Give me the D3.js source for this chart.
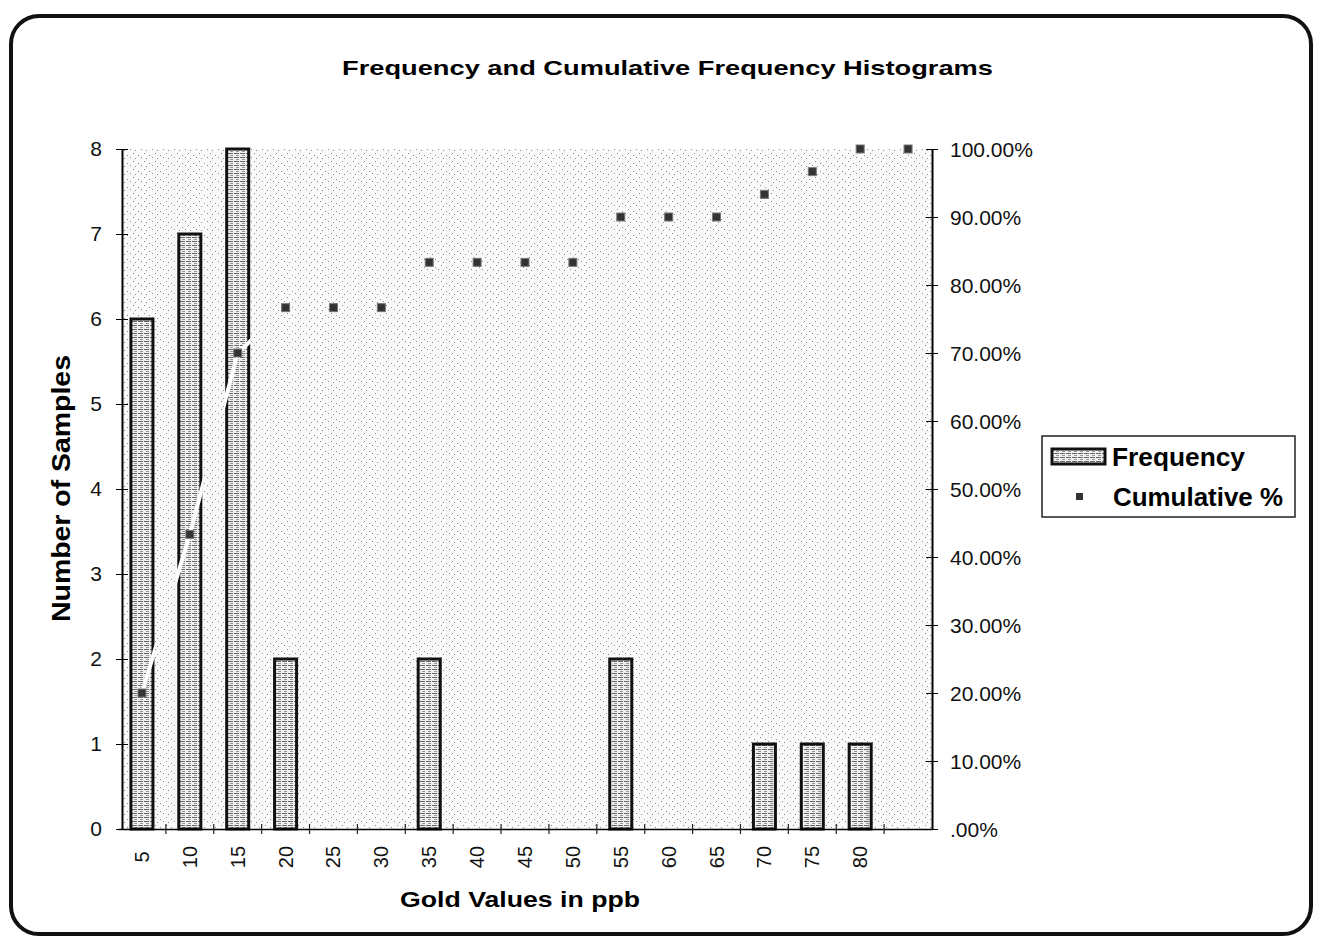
<!DOCTYPE html>
<html>
<head>
<meta charset="utf-8">
<script src="https://cdn.jsdelivr.net/npm/d3@7"></script>
<style>
  body { margin: 0; background: #fff; }
  svg { display: block; font-family: Arial, "Liberation Sans", sans-serif; }
</style>
</head>
<body>
<svg id="chart" width="1323" height="945"></svg>
<script>
// Chart data
const bins = ["5", "10", "15", "20", "25", "30", "35", "40", "45", "50", "55", "60", "65", "70", "75", "80", ""];
const frequency = [6, 7, 8, 2, 0, 0, 2, 0, 0, 0, 2, 0, 0, 1, 1, 1, 0];
const cumulative = [20.0, 43.33, 70.0, 76.67, 76.67, 76.67, 83.33, 83.33, 83.33, 83.33, 90.0, 90.0, 90.0, 93.33, 96.67, 100.0, 100.0];
const leftTicks = [0, 1, 2, 3, 4, 5, 6, 7, 8];
const rightTicks = [0, 10, 20, 30, 40, 50, 60, 70, 80, 90, 100];

const svg = d3.select("#chart");

// outer frame
svg.append("rect")
  .attr("x", 11).attr("y", 16)
  .attr("width", 1300).attr("height", 918)
  .attr("rx", 28)
  .style("fill", "#fff")
  .style("stroke", "#111")
  .style("stroke-width", 4);

// patterns for the scanned look
const defs = svg.append("defs");
const speckle = defs.append("pattern")
  .attr("id", "speckle").attr("patternUnits", "userSpaceOnUse")
  .attr("width", 11).attr("height", 8);
speckle.append("rect").attr("width", 11).attr("height", 8).style("fill", "#fafafa");
[[1, 1], [6, 3], [3, 6], [9, 5]].forEach(([x, y]) =>
  speckle.append("rect").attr("x", x).attr("y", y).attr("width", 1).attr("height", 1).style("fill", "#8a8a8a"));

const hatch = defs.append("pattern")
  .attr("id", "hatch").attr("patternUnits", "userSpaceOnUse")
  .attr("width", 6).attr("height", 4);
hatch.append("rect").attr("width", 6).attr("height", 4).style("fill", "#f0f0f0");
hatch.append("rect").attr("x", 0).attr("y", 1).attr("width", 5).attr("height", 1).style("fill", "#666");
hatch.append("rect").attr("x", 2).attr("y", 3).attr("width", 3).attr("height", 1).style("fill", "#999");

const margin = { left: 118, right: 932, top: 149, bottom: 829 };

const x = d3.scaleBand()
  .domain(d3.range(bins.length))
  .range([margin.left, margin.right])
  .paddingInner(0.54).paddingOuter(0.27);

const yL = d3.scaleLinear().domain([0, 8]).range([margin.bottom, margin.top]);
const yR = d3.scaleLinear().domain([0, 100]).range([margin.bottom, margin.top]);

// plot area background
svg.append("rect")
  .attr("x", margin.left + 3).attr("y", margin.top)
  .attr("width", margin.right - margin.left - 3)
  .attr("height", margin.bottom - margin.top)
  .style("fill", "url(#speckle)");

// title
svg.append("text")
  .attr("x", 342).attr("y", 75)
  .attr("textLength", 651).attr("lengthAdjust", "spacingAndGlyphs")
  .style("font-size", "21px").style("font-weight", "bold")
  .text("Frequency and Cumulative Frequency Histograms");

// bars
const bw = x.bandwidth();
const bars = svg.selectAll(".bar")
  .data(frequency)
  .join("rect")
  .attr("class", "bar")
  .attr("x", (d, i) => x(i))
  .attr("y", d => yL(d))
  .attr("width", bw)
  .attr("height", d => yL(0) - yL(d))
  .style("fill", "url(#hatch)")
  .style("stroke", "#111")
  .style("stroke-width", d => d > 0 ? 3 : 0);

// clip so the white cumulative line only shows across the bars
const clip = defs.append("clipPath").attr("id", "barclip");
clip.selectAll("rect")
  .data(frequency)
  .join("rect")
  .attr("x", (d, i) => x(i) - 2)
  .attr("y", d => yL(d))
  .attr("width", bw + 4)
  .attr("height", d => yL(0) - yL(d));

const cx = i => x(i) + bw / 2;
svg.append("path")
  .datum(cumulative)
  .attr("clip-path", "url(#barclip)")
  .attr("d", d3.line().x((d, i) => cx(i)).y(d => yR(d)))
  .style("fill", "none")
  .style("stroke", "#fff")
  .style("stroke-width", 4);

// cumulative markers
svg.selectAll(".pt")
  .data(cumulative)
  .join("rect")
  .attr("class", "pt")
  .attr("x", (d, i) => cx(i) - 4)
  .attr("y", d => yR(d) - 4)
  .attr("width", 8).attr("height", 8)
  .style("fill", "#333")
  .style("stroke", "#777").style("stroke-width", 1);

// left axis
const leftAxis = d3.axisLeft(yL).tickValues(leftTicks).tickSizeInner(6).tickSizeOuter(0).tickPadding(14);
const gL = svg.append("g").attr("transform", `translate(${margin.left + 4},0)`).call(leftAxis);
gL.selectAll(".tick line").attr("x2", 6).attr("x1", -6);
gL.selectAll("text").style("font-size", "21px").style("fill", "#111");
gL.select(".domain").style("stroke-width", 2);

// right axis
const rightAxis = d3.axisRight(yR).tickValues(rightTicks).tickSizeInner(6).tickSizeOuter(0).tickPadding(12)
  .tickFormat(d => d === 0 ? ".00%" : d.toFixed(2) + "%");
const gR = svg.append("g").attr("transform", `translate(${margin.right},0)`).call(rightAxis);
gR.selectAll(".tick line").attr("x1", -6).attr("x2", 6);
gR.selectAll("text").style("font-size", "21px").style("fill", "#111").attr("dy", "0.35em");
gR.select(".domain").style("stroke-width", 2);

// bottom axis
const bottomAxis = d3.axisBottom(x).tickFormat(i => bins[i]).tickSize(0).tickPadding(0);
const gB = svg.append("g").attr("transform", `translate(0,${margin.bottom})`).call(bottomAxis);
gB.select(".domain").style("stroke-width", 1.5);
gB.selectAll("text")
  .attr("transform", "rotate(-90)")
  .attr("x", -28).attr("y", 0).attr("dy", "0.35em")
  .attr("text-anchor", "middle")
  .style("font-size", "20px").style("fill", "#111");

// tick marks between categories
svg.selectAll(".xtick")
  .data(d3.range(1, bins.length))
  .join("line")
  .attr("class", "xtick")
  .attr("x1", i => x(i) - x.step() * x.paddingInner() / 2)
  .attr("x2", i => x(i) - x.step() * x.paddingInner() / 2)
  .attr("y1", margin.bottom - 5).attr("y2", margin.bottom + 5)
  .style("stroke", "#222").style("stroke-width", 1.2);

// axis titles
svg.append("text")
  .attr("x", 400).attr("y", 907)
  .attr("textLength", 240).attr("lengthAdjust", "spacingAndGlyphs")
  .style("font-size", "22px").style("font-weight", "bold")
  .text("Gold Values in ppb");

svg.append("text")
  .attr("transform", "translate(70,622) rotate(-90)")
  .attr("textLength", 267).attr("lengthAdjust", "spacingAndGlyphs")
  .style("font-size", "25px").style("font-weight", "bold")
  .text("Number of Samples");

// legend
const lg = svg.append("g").attr("transform", "translate(1042,436)");
lg.append("rect")
  .attr("width", 253).attr("height", 81)
  .style("fill", "#fff").style("stroke", "#222").style("stroke-width", 1.5);
lg.append("rect")
  .attr("x", 10).attr("y", 13).attr("width", 53).attr("height", 15)
  .style("fill", "url(#hatch)").style("stroke", "#111").style("stroke-width", 3);
lg.append("text")
  .attr("x", 70).attr("y", 30)
  .attr("textLength", 133).attr("lengthAdjust", "spacingAndGlyphs")
  .style("font-size", "25px").style("font-weight", "bold")
  .text("Frequency");
lg.append("rect")
  .attr("x", 34).attr("y", 57).attr("width", 7).attr("height", 7)
  .style("fill", "#333");
lg.append("text")
  .attr("x", 71).attr("y", 70)
  .attr("textLength", 170).attr("lengthAdjust", "spacingAndGlyphs")
  .style("font-size", "25px").style("font-weight", "bold")
  .text("Cumulative %");
</script>
</body>
</html>
